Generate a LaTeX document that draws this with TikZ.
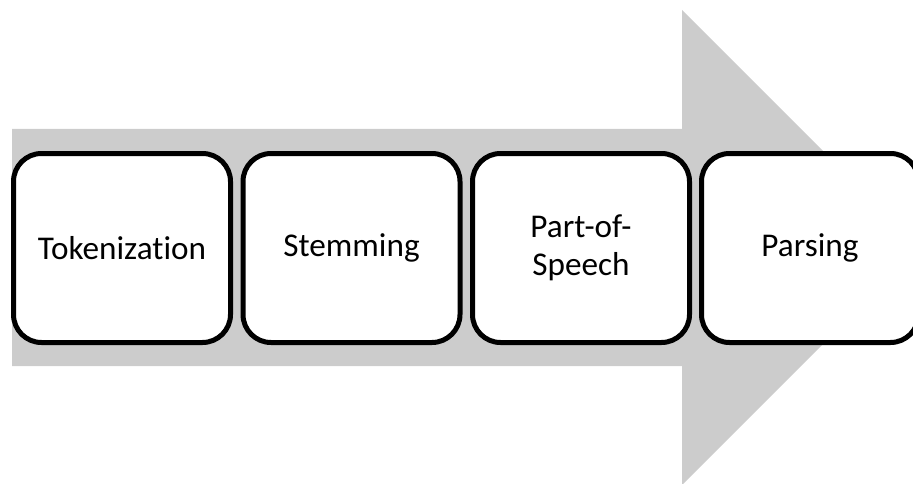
\documentclass[tikz,border=0pt]{standalone}
\usepackage{fontspec}
\setmainfont{Carlito}[Ligatures={NoCommon}]
\definecolor{arrowgray}{HTML}{CCCCCC}
\begin{document}
\begin{tikzpicture}[x=1pt,y=1pt,
  stage/.style={draw=black, fill=white, line width=5pt, rounded corners=28pt,
    minimum width=217pt, minimum height=189pt, align=center,
    font=\fontsize{33.2}{37.7}\selectfont, inner sep=0pt}]
  \useasboundingbox (0,0) rectangle (913,483);
  \clip (0,0) rectangle (913,483);
  % broad process arrow behind the stages
  \fill[arrowgray] (12,117) -- (12,354) -- (682,354) -- (682,473)
    -- (919.5,235.5) -- (682,-2) -- (682,117) -- cycle;
  % processing stages
  \node[stage] (tok) at (122,235) {Tokenization};
  \node[stage] (stem) at (351.5,235) {Stemming};
  \node[stage] (pos) at (581,235) {Part-of-\\Speech};
  \node[stage] (parse) at (810,235) {Parsing};
\end{tikzpicture}
\end{document}
